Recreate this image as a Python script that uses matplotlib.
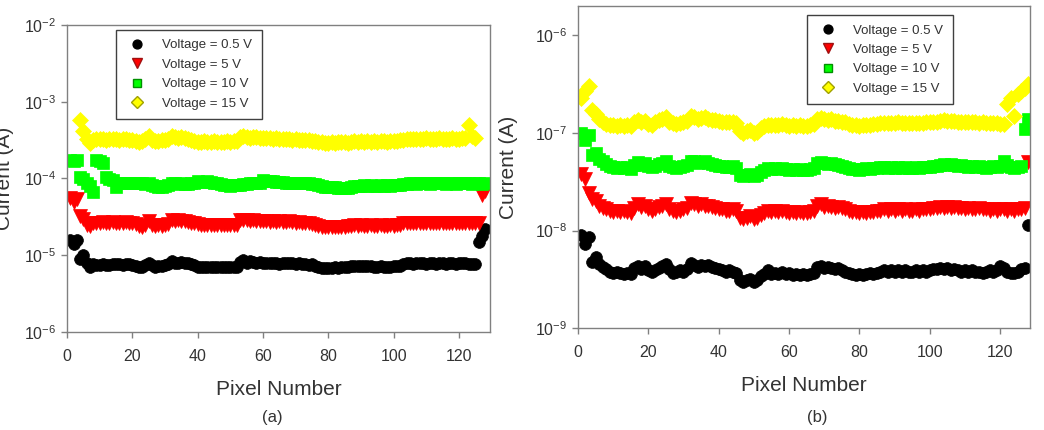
import numpy as np
import matplotlib
matplotlib.use("Agg")
import matplotlib.pyplot as plt
from matplotlib.ticker import LogLocator, NullLocator

plt.rcParams['font.family'] = ['Liberation Sans', 'DejaVu Sans']
plt.rcParams['mathtext.fontset'] = 'custom'
plt.rcParams['mathtext.rm'] = 'Liberation Sans'
plt.rcParams['mathtext.it'] = 'Liberation Sans'

nan = np.nan
pixels = np.arange(1, 129)
labels = ['Voltage = 0.5 V', 'Voltage = 5 V', 'Voltage = 10 V', 'Voltage = 15 V']

# panel (a), values in uA
a_05v = [16, 14, 16, 9, 10, 8, 7,
         7.6, 7.4, 7.5, 7.6, 7.5, 7.4, 7.6, 7.7, 7.6, 7.5, 7.6, 7.7, 7.5, 7.3,
         7.0, 7.1, 7.4, 8.0,
         7.4, 7.0, 7.2, 7.3, 7.5, 7.6,
         8.3, 8.0, 7.8, 8.1, 7.9, 8.0, 7.7,
         7.4, 7.1, 7.0, 7.1, 7.1, 7.0, 7.1, 7.1, 7.0, 7.1, 7.1, 7.1, 7.1, 7.1,
         8.2, 8.6,
         8.0, 8.3, 8.1, 7.9, 8.2, 8.0, 7.9, 8.0, 7.8, 7.9, 7.7, 7.8, 7.9, 7.8, 7.9, 7.7, 7.8, 7.6, 7.7, 7.5, 7.6,
         7.3, 7.1, 6.9, 6.8, 6.8, 6.9, 7.0, 6.9, 7.0, 7.1, 7.0,
         7.3, 7.2, 7.3, 7.2, 7.2, 7.3, 7.2, 7.1, 7.1, 7.2, 7.1, 7.1, 7.1, 7.2, 7.2, 7.3,
         7.6, 7.8, 7.8, 7.7, 7.8, 7.9, 7.8, 7.7, 7.8, 7.8, 7.7, 7.8, 7.9, 7.7, 7.8, 7.8, 7.7, 7.8, 7.9, 7.8, 7.7, 7.6, 7.7,
         15, 18, 22]
a_5v = [56, 50, 54, 32, 30, 25, 24,
        26, 26.5, 26, 27, 26, 26.5, 27, 26, 26.5, 26, 27, 26.5, 26, 25.5,
        24, 23.5, 25, 28,
        25, 24, 24.5, 24, 25, 25.5,
        29, 28, 28.5, 27.5, 28, 27, 26.5,
        26, 25.5, 25, 25, 25, 25, 25, 25, 25, 25, 25, 25, 25, 25,
        28.5, 29,
        28.5, 28, 28.5, 28, 27.5, 28, 27.5, 27, 27.5, 27, 27.5, 27, 27, 27.5, 27, 26.5, 27, 26.5, 26, 26, 25.5,
        24.5, 24, 23.5, 23, 23, 23.5, 23.5, 23, 23.5, 23.5, 24,
        24, 24.5, 24, 24.5, 24, 24, 24.5, 24, 24, 24.5, 24, 24, 24.5, 24, 24.5, 25,
        26, 26.5, 26, 26.5, 26, 26.5, 26, 26.5, 26, 26.5, 26, 26.5, 26, 26, 26.5, 26, 26.5, 26, 26, 26.5, 26, 26.5, 26,
        26, 60, 68]
a_10v = [175, 170, 175, 105, 98, 88, 80,
         66, 175, 170, 160, 105, 98, 95, 78, 88, 86, 87, 86, 88, 87,
         86, 87, 85, 88,
         82, 80, 78, 77, 79, 82,
         88, 86, 84, 87, 85, 84, 86,
         88, 92, 90, 91, 93, 90, 88, 86, 84, 82, 81, 80, 81, 82,
         83, 85,
         84, 86, 87, 86, 88, 95, 94, 93, 92, 91, 90, 89, 88, 88, 87, 88, 87, 86, 87, 86, 85,
         84, 83, 80, 78, 77, 78, 77, 76, 75, 74, 76,
         78, 80, 79, 80, 81, 80, 81, 80, 80, 81, 80, 81, 80, 81, 82, 82,
         84, 85, 86, 86, 85, 86, 87, 86, 85, 86, 86, 87, 86, 85, 86, 86, 85, 86, 87, 86, 86, 85, 86,
         86, 85, 87]
a_15v = [nan, nan, nan, 580, 420, 330, 290,
         320, 330, 325, 330, 320, 325, 330, 325, 320, 330, 325, 320, 315, 310,
         300, 310, 330, 360,
         320, 310, 305, 315, 320, 330,
         360, 345, 335, 350, 340, 330, 320,
         310, 300, 300, 305, 300, 300, 305, 300, 300, 300, 305, 300, 305, 310,
         350, 360,
         345, 340, 350, 345, 340, 335, 340, 335, 330, 335, 330, 325, 330, 325, 320, 325, 320, 315, 320, 315, 310,
         305, 300, 295, 290, 290, 295, 290, 295, 300, 295, 290,
         300, 305, 300, 305, 300, 305, 300, 305, 300, 305, 305, 300, 305, 310, 310, 315,
         320, 325, 330, 325, 330, 325, 330, 335, 330, 325, 330, 335, 330, 325, 330, 335, 330, 330, 335, 340, 500, 360, 340,
         nan, nan, nan]

# panel (b), values in nA
b_05v = [9.0, 7.3, 8.6, 4.8, 5.3, 4.5, 4.2,
         4.0, 3.8, 3.7, 3.8, 3.7, 3.6, 3.7, 3.6, 4.1, 4.3, 4.0, 4.3, 3.9, 3.8,
         3.9, 4.1, 4.3, 4.5,
         4.0, 3.7, 3.8, 3.9, 3.8, 4.0,
         4.6, 4.4, 4.2, 4.4, 4.3, 4.4, 4.2,
         4.1, 4.0, 3.9, 3.8, 3.9, 3.8, 3.7, 3.1, 3.0, 3.1, 3.2, 3.0, 3.1, 3.4,
         3.6, 3.9,
         3.6, 3.7, 3.6, 3.8, 3.6, 3.7, 3.5, 3.6, 3.5, 3.6, 3.5, 3.6, 3.7, 4.2, 4.3, 4.1, 4.2, 4.1, 4.0, 4.1, 3.9,
         3.8, 3.7, 3.6, 3.5, 3.6, 3.5, 3.6, 3.7, 3.6, 3.7, 3.8,
         3.9, 3.8, 3.9, 3.8, 3.9, 3.8, 3.9, 3.8, 3.8, 3.9, 3.8, 3.9, 3.8, 3.9, 4.0, 4.0,
         4.1, 4.0, 4.1, 3.9, 4.0, 3.9, 3.8, 3.9, 3.8, 3.9, 3.8, 3.8, 3.7, 3.8, 3.9, 3.8, 3.9, 4.3, 4.1, 3.8, 3.7, 3.7, 3.8,
         4.0, 4.1, 11.5]
b_5v = [38, 34, 24, 21, 20, 18, 17,
        16.5, 16, 15.5, 16, 15.5, 16, 15.5, 15, 17, 18.5, 17.5, 18, 16.5, 16,
        16.5, 17.5, 18, 18.5,
        16.5, 16, 15.5, 16, 16.5, 17,
        19, 18.5, 18, 18.5, 18, 18, 17.5,
        17, 16.5, 16.5, 16, 16, 16.5, 16, 13.5, 13, 13.5, 14, 13, 13.5, 14.5,
        15, 16,
        15.5, 16, 15.5, 16, 15.5, 15, 15.5, 15, 15.5, 15, 15, 15.5, 16, 18, 18.5, 17.5, 18, 17.5, 17, 17.5, 17,
        16.5, 16, 15.5, 15.5, 15, 15.5, 15, 15.5, 15.5, 16, 16,
        16.5, 16, 16.5, 16, 16.5, 16, 16.5, 16, 16, 16.5, 16, 16.5, 16.5, 16.5, 17, 17,
        17.5, 17, 17.5, 17, 17.5, 17, 17, 16.5, 17, 16.5, 16.5, 17, 16.5, 16.5, 16, 16.5, 16, 16.5, 16.5, 16, 16.5, 16, 16.5,
        16.5, 17, 50]
b_10v = [100, 85, 95, 60, 62, 54, 52,
         48, 46, 45, 44, 45, 44, 45, 43, 47, 50, 47, 49, 46, 45,
         46, 48, 49, 51,
         46, 45, 44, 45, 46, 47,
         52, 51, 49, 50, 51, 49, 48,
         47, 46, 46, 45, 45, 46, 44, 37, 36, 37, 38, 36, 37, 40,
         42, 44,
         43, 44, 43, 44, 43, 42, 43, 42, 43, 42, 42, 43, 44, 49, 50, 49, 48, 49, 48, 47, 46,
         45, 44, 43, 43, 42, 43, 44, 43, 44, 44, 45,
         45, 44, 45, 44, 45, 44, 45, 44, 44, 45, 44, 45, 45, 45, 46, 46,
         47, 48, 47, 48, 47, 46, 47, 46, 45, 46, 45, 46, 45, 44, 45, 46, 45, 46, 52, 47, 45, 44, 45,
         46, 110, 140]
b_15v = [230, 270, 300, 170, 155, 140, 130,
         125, 120, 122, 118, 120, 118, 120, 117, 128, 135, 128, 132, 125, 122,
         128, 135, 140, 145,
         130, 126, 124, 126, 130, 133,
         148, 145, 140, 142, 145, 140, 137,
         135, 132, 130, 130, 128, 130, 127, 105, 100, 104, 108, 101, 103, 112,
         118, 122,
         120, 122, 120, 123, 120, 118, 120, 118, 120, 118, 117, 120, 124, 140, 142, 138, 136, 138, 134, 133, 130,
         128, 125, 122, 120, 118, 120, 122, 121, 123, 124, 126,
         127, 126, 127, 126, 128, 126, 127, 126, 126, 127, 126, 127, 128, 128, 130, 130,
         132, 135, 133, 134, 132, 131, 130, 128, 129, 128, 129, 127, 128, 127, 126, 127, 126, 125, 124, 200, 230, 150, 250,
         270, 290, 320]

markers = ['o', 'v', 's', 'D']
faces = ['#000000', '#ff0000', '#00ff00', '#ffff00']
edges = ['#000000', '#a01010', '#009000', '#a0a000']
sizes = [8.5, 9.5, 8.5, 8]

fig = plt.figure(figsize=(10.44, 4.30), dpi=100)
ax1 = fig.add_axes([0.0642, 0.228, 0.4051, 0.714])
ax2 = fig.add_axes([0.5536, 0.237, 0.4330, 0.749])


def draw(ax, series, scale, ylim, xmax, leg_anchor, label_x):
    for i, vals in enumerate(series):
        v = np.array(vals, dtype=float) * scale
        ax.plot(pixels, v, linestyle='none', marker=markers[i], markersize=sizes[i],
                markerfacecolor=faces[i], markeredgecolor=faces[i], markeredgewidth=0.5,
                label=labels[i])
    ax.set_yscale('log')
    ax.set_ylim(ylim)
    ax.set_xlim(0, xmax)
    ax.set_xticks([0, 20, 40, 60, 80, 100, 120])
    ax.yaxis.set_major_locator(LogLocator(base=10, numticks=10))
    ax.yaxis.set_minor_locator(NullLocator())
    for s in ax.spines.values():
        s.set_color('#808080')
        s.set_linewidth(1.0)
    ax.tick_params(axis='both', direction='out', length=4, width=1, color='#808080',
                   labelsize=11.5, labelcolor='#333333')
    ax.tick_params(axis='x', pad=8)
    ax.set_xlabel('Pixel Number', fontsize=15, color='#333333', labelpad=12)
    ax.set_ylabel('Current (A)', fontsize=15, color='#333333')
    ax.yaxis.set_label_coords(label_x, 0.5)
    leg = ax.legend(loc='upper left', bbox_to_anchor=leg_anchor, borderaxespad=0,
                    fontsize=9.5, fancybox=False, framealpha=1, edgecolor='#404040',
                    labelspacing=0.55, handletextpad=1.0, borderpad=0.7,
                    handlelength=1.8, markerscale=0.75)
    leg.get_frame().set_linewidth(1.0)
    for i, h in enumerate(leg.legend_handles):
        h.set_markeredgecolor(edges[i])
        h.set_markeredgewidth(1.0)
    for t in leg.get_texts():
        t.set_color('#333333')


draw(ax1, [a_05v, a_5v, a_10v, a_15v], 1e-6, (1e-6, 1e-2), 129.5, (0.116, 0.984), -0.125)
draw(ax2, [b_05v, b_5v, b_10v, b_15v], 1e-9, (1e-9, 2e-6), 128.5, (0.507, 0.972), -0.133)

fig.text(0.261, 0.028, '(a)', fontsize=12, color='#333333', ha='center', va='center')
fig.text(0.783, 0.030, '(b)', fontsize=12, color='#333333', ha='center', va='center')

fig.savefig('out.png', dpi=100)
